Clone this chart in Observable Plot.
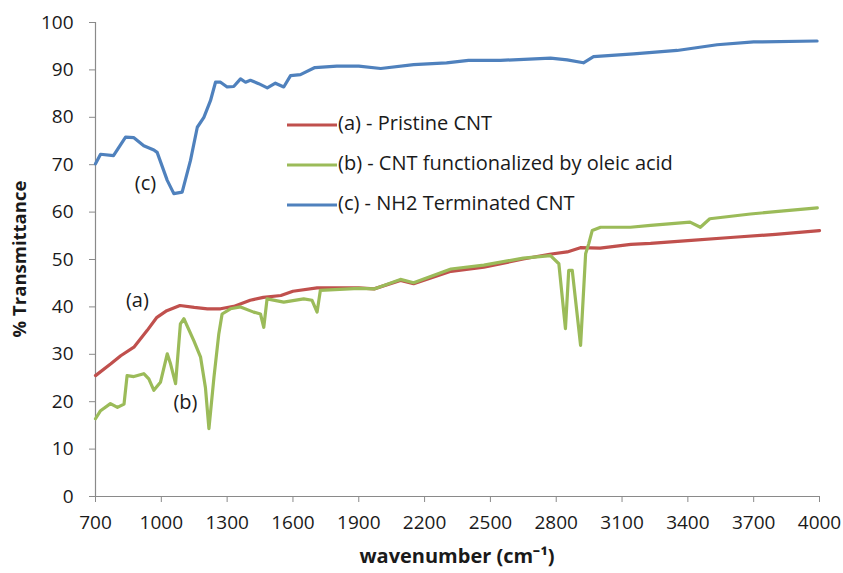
<!DOCTYPE html>
<html>
<head>
<meta charset="utf-8">
<script src="https://cdn.jsdelivr.net/npm/d3@7"></script>
<script src="https://cdn.jsdelivr.net/npm/@observablehq/plot@0.6"></script>
<style>
  body { margin: 0; background: #fff; }
  #chart { font-family: "Open Sans", sans-serif; }
</style>
</head>
<body>
<div id="chart"></div>
<script>
// FTIR spectra: % transmittance vs wavenumber for three CNT samples
const seriesNames = [
  "(a) - Pristine CNT",
  "(b) - CNT functionalized by oleic acid",
  "(c) - NH2 Terminated CNT"
];
const seriesColors = ["#C0504D", "#9BBB59", "#4F81BD"];

const xTicks = [700, 1000, 1300, 1600, 1900, 2200, 2500, 2800, 3100, 3400, 3700, 4000];
const yTicks = [0, 10, 20, 30, 40, 50, 60, 70, 80, 90, 100];

// (a) pristine CNT
const pristineWn = [700, 770, 815, 875, 935, 980, 1025, 1085, 1150, 1210, 1270, 1330, 1405, 1465, 1545, 1600, 1710, 1900, 1970, 2090, 2150, 2320, 2470, 2650, 2770, 2850, 2910, 3000, 3140, 3230, 3400, 3610, 3800, 4000];
const pristineT  = [25.5, 28, 29.7, 31.5, 35, 37.8, 39.2, 40.3, 39.9, 39.6, 39.6, 40.1, 41.4, 42, 42.4, 43.3, 44, 44, 43.8, 45.6, 44.9, 47.5, 48.4, 50.1, 51.1, 51.6, 52.5, 52.4, 53.2, 53.4, 54, 54.7, 55.3, 56.1];

// (b) CNT functionalized by oleic acid
const oleicWn = [700, 723, 768, 800, 830, 844, 875, 920, 943, 966, 996, 1027, 1042, 1065, 1087, 1103, 1148, 1179, 1201, 1217, 1240, 1262, 1277, 1315, 1361, 1421, 1452, 1467, 1482, 1558, 1649, 1687, 1710, 1725, 1900, 1970, 2090, 2150, 2320, 2470, 2650, 2774, 2812, 2842, 2857, 2873, 2911, 2934, 2948, 2964, 3002, 3138, 3230, 3410, 3457, 3500, 3685, 3850, 3990];
const oleicT  = [16.4, 18.1, 19.6, 18.8, 19.5, 25.5, 25.3, 25.9, 24.8, 22.4, 24.1, 30.1, 28, 23.8, 36.4, 37.5, 32.9, 29.4, 23, 14.3, 25.2, 34.3, 38.5, 39.6, 40, 38.9, 38.5, 35.7, 41.7, 41, 41.7, 41.4, 38.9, 43.5, 43.9, 43.8, 45.8, 45.1, 48, 48.8, 50.3, 50.8, 49.1, 35.4, 47.7, 47.7, 31.9, 51.2, 53.3, 56.1, 56.8, 56.8, 57.2, 57.9, 56.8, 58.6, 59.6, 60.3, 60.9];

// (c) NH2 terminated CNT
const aminoWn = [700, 723, 782, 837, 875, 920, 966, 981, 1027, 1057, 1095, 1133, 1164, 1194, 1224, 1247, 1270, 1300, 1330, 1361, 1384, 1406, 1444, 1483, 1520, 1558, 1589, 1634, 1700, 1800, 1900, 2000, 2150, 2300, 2400, 2546, 2774, 2850, 2924, 2970, 3153, 3351, 3533, 3700, 3989];
const aminoT  = [70.2, 72.2, 71.9, 75.8, 75.7, 74, 73.1, 72.6, 66.7, 63.9, 64.2, 70.9, 77.9, 80, 83.5, 87.4, 87.4, 86.4, 86.5, 88.1, 87.4, 87.8, 87.1, 86.2, 87.2, 86.4, 88.8, 89, 90.5, 90.8, 90.8, 90.3, 91.1, 91.5, 92, 92, 92.5, 92.1, 91.5, 92.8, 93.4, 94.1, 95.3, 95.9, 96.1];

// Curve tags placed beside each spectrum
const tagText = ["(a)", "(b)", "(c)"];
const tagWn = [891, 1110, 928];
const tagT = [41.4, 19.8, 66];

const spectra = [
  [pristineWn, pristineT],
  [oleicWn, oleicT],
  [aminoWn, aminoT]
];
const rows = spectra.flatMap(([wn, t], i) =>
  wn.map((w, j) => ({wavenumber: w, transmittance: t[j], series: seriesNames[i]}))
);
const tags = tagText.map((s, i) => ({s, wavenumber: tagWn[i], transmittance: tagT[i]}));

const W = 843, H = 573;
const margin = {left: 95, right: 24, top: 22, bottom: 77};
const ink = "#1a1a1a";
const axisGray = "#8a8a8a";

const chart = Plot.plot({
  width: W,
  height: H,
  marginLeft: margin.left,
  marginRight: margin.right,
  marginTop: margin.top,
  marginBottom: margin.bottom,
  style: {fontFamily: "'Open Sans', sans-serif", fontSize: "19px", color: ink, background: "#fff"},
  x: {domain: [700, 4000]},
  y: {domain: [0, 100]},
  color: {domain: seriesNames, range: seriesColors},
  marks: [
    Plot.axisX({ticks: xTicks, tickFormat: d => String(d), tickSize: 6, tickPadding: 13,
      stroke: axisGray, fill: ink, fontSize: 19, label: null}),
    Plot.axisY({ticks: yTicks, tickSize: 6, tickPadding: 16,
      stroke: axisGray, fill: ink, fontSize: 19, label: null}),
    Plot.ruleY([0], {stroke: axisGray, strokeWidth: 1.2}),
    Plot.ruleX([700], {stroke: axisGray, strokeWidth: 1.2}),
    Plot.line(rows, {
      x: "wavenumber", y: "transmittance", z: "series", stroke: "series",
      strokeWidth: 3.2, strokeLinejoin: "round", strokeLinecap: "round"
    }),
    Plot.text(tags, {x: "wavenumber", y: "transmittance", text: "s", fontSize: 20, fill: ink})
  ]
});

// Axis titles and legend drawn into the same SVG
const svg = d3.select(chart);
svg.append("text")
  .attr("x", (margin.left + W - margin.right) / 2)
  .attr("y", 558)
  .attr("text-anchor", "middle")
  .attr("dominant-baseline", "middle")
  .attr("font-weight", "bold")
  .attr("font-size", 20)
  .attr("fill", ink)
  .text("wavenumber (cm⁻¹)");

svg.append("text")
  .attr("transform", `translate(21,${(margin.top + H - margin.bottom) / 2}) rotate(-90)`)
  .attr("text-anchor", "middle")
  .attr("dominant-baseline", "middle")
  .attr("font-weight", "bold")
  .attr("font-size", 18.5)
  .attr("fill", ink)
  .text("% Transmittance");

const legend = svg.append("g").attr("transform", "translate(287,125)");
seriesNames.forEach((name, i) => {
  const g = legend.append("g").attr("transform", `translate(0,${i * 40})`);
  g.append("line").attr("x1", 0).attr("x2", 50).attr("y1", 0).attr("y2", 0)
    .attr("stroke", seriesColors[i]).attr("stroke-width", 3.2);
  g.append("text").attr("x", 51).attr("y", 0)
    .attr("text-anchor", "start")
    .attr("dominant-baseline", "middle")
    .attr("font-size", 20).attr("fill", ink)
    .text(name);
});

document.getElementById("chart").append(chart);
</script>
</body>
</html>
